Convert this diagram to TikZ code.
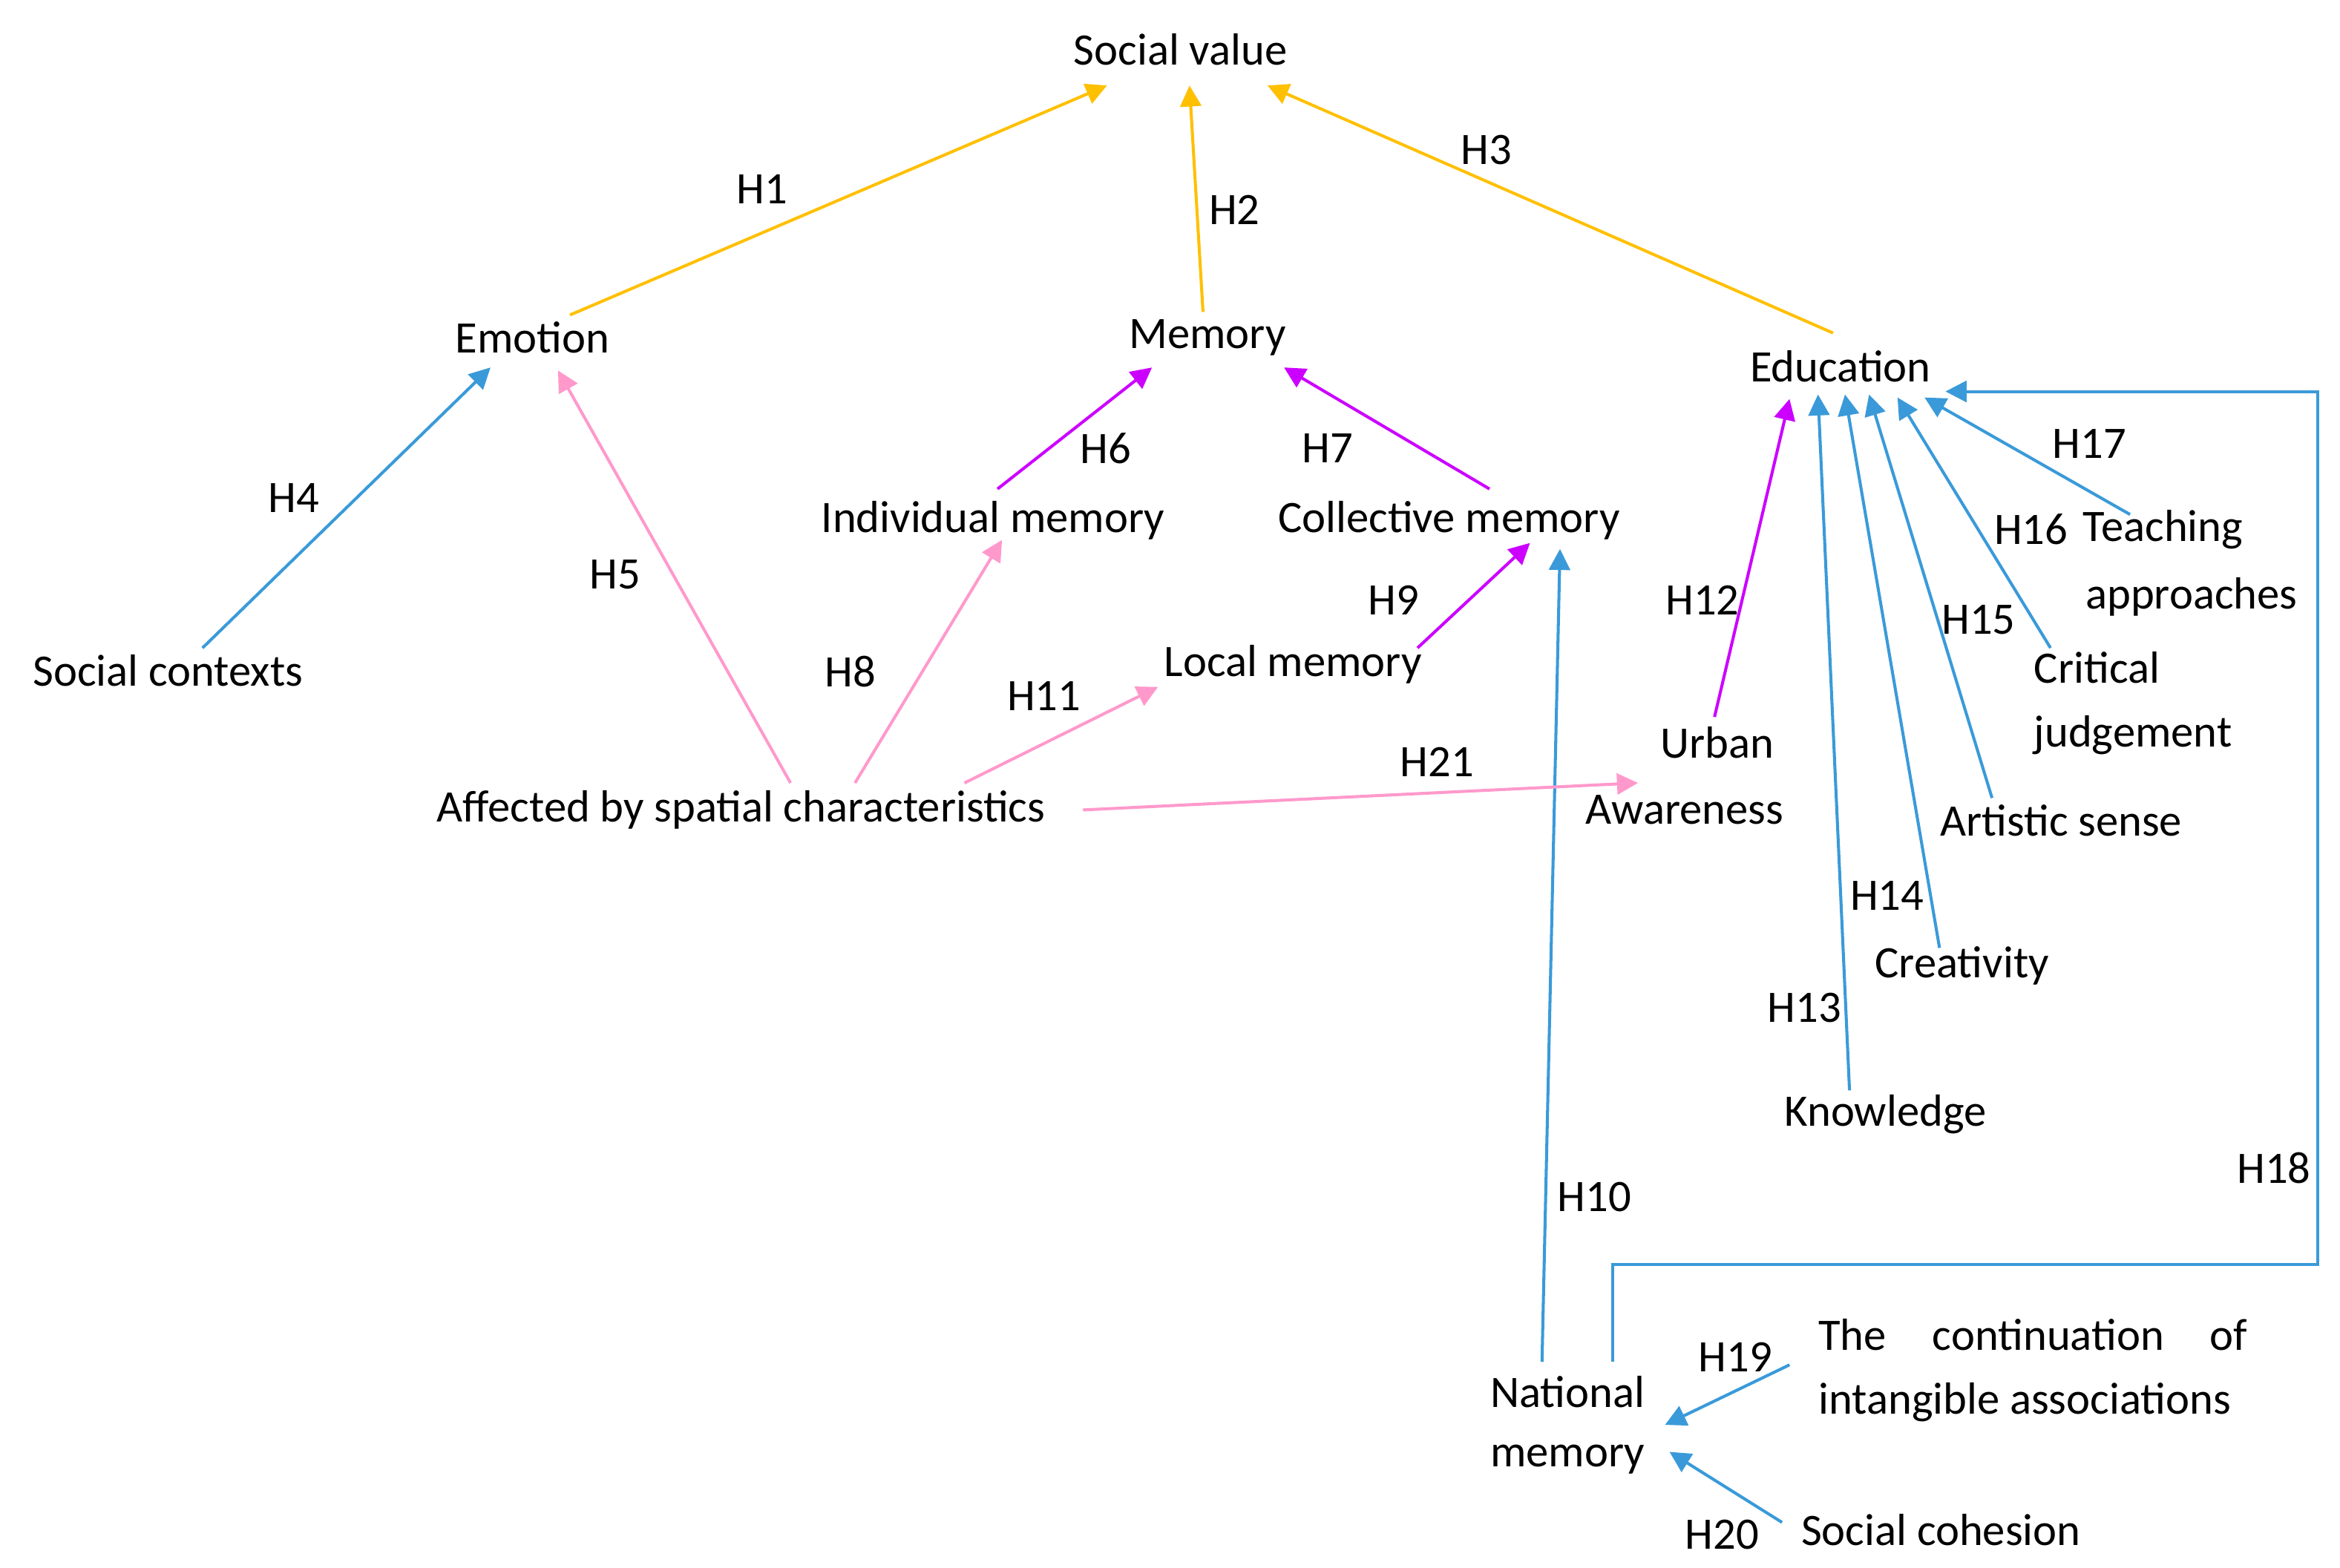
\documentclass[tikz,border=0pt]{standalone}
\usepackage{fontspec}
\setmainfont{Carlito}
\usetikzlibrary{arrows.meta}
\definecolor{org}{HTML}{FFC000}
\definecolor{blu}{HTML}{3A9AD9}
\definecolor{pnk}{HTML}{FF99CC}
\definecolor{pur}{HTML}{CC00FF}
\begin{document}
\begin{tikzpicture}[x=0.5pt,y=-0.5pt,
  t/.style={inner sep=0pt,font=\fontsize{15}{18}\selectfont},
  e/.style={line width=1pt,-{Triangle[length=7pt,width=7pt]}},
  o/.style={e,org},b/.style={e,blu},p/.style={e,pnk},u/.style={e,pur}]
\useasboundingbox[fill=white] (0,0) rectangle (1560,1045);
\node[t] (sv) at (787,33) {Social value};
\node[t] (em) at (355,225) {Emotion};
\node[t] (me) at (805,225) {Memory};
\node[t] (ed) at (1227,244) {Education};
\node[t] (sc) at (112,447) {Social contexts};
\node[t] (im) at (662,347) {Individual memory};
\node[t] (cm) at (966,347) {Collective memory};
\node[t] (lm) at (862,443) {Local memory};
\node[t] (af) at (494,540) {Affected by spatial characteristics};
\node[t] (ua1) at (1145,495) {Urban};
\node[t] (ua2) at (1123,540) {Awareness};
\node[t] (ta1) at (1442,353) {Teaching};
\node[t] (ta2) at (1461,398) {approaches};
\node[t] (cj1) at (1398,445) {Critical};
\node[t] (cj2) at (1422,490) {judgement};
\node[t] (as) at (1374,547) {Artistic sense};
\node[t] (cr) at (1308,644) {Creativity};
\node[t] (kn) at (1257,743) {Knowledge};
\node[t] (nm1) at (1045,928) {National};
\node[t] (nm2) at (1045,973) {memory};
\node[t,anchor=west] (tc1) at (1212,890) {\makebox[143pt][s]{The\hfill continuation\hfill of}};
\node[t,anchor=west] (tc2) at (1212,935) {intangible associations};
\node[t] (so) at (1294,1020) {Social cohesion};
% labels
\foreach \l/\x/\y in {H1/508/126,H2/823/140,H3/991/100,H4/196/332,H5/410/383,H6/737/299,H7/885/299,H8/567/448,H9/929/400,H10/1063/798,H11/696/464,H12/1135/400,H13/1203/672,H14/1258/597,H15/1319/413,H16/1354/353,H17/1393/296,H18/1516/779,H19/1157/905,H20/1148/1023,H21/958/508}
  \node[t] (l\l) at (\x,\y) {\l};
% edges
\draw[o] (380,210) -- (738,57);
\draw[o] (802,208) -- (793,57);
\draw[o] (1222,222) -- (845,57);
\draw[b] (135,432) -- (327,245);
\draw[p] (527,522) -- (372,247);
\draw[u] (665,326) -- (768,245);
\draw[u] (993,326) -- (856,245);
\draw[p] (570,522) -- (668,360);
\draw[u] (945,432) -- (1020,362);
\draw[b] (1028,908) -- (1040,366);
\draw[p] (643,522) -- (772,458);
\draw[u] (1143,478) -- (1193,266);
\draw[b] (1233,727) -- (1212,263);
\draw[b] (1293,632) -- (1230,263);
\draw[b] (1328,532) -- (1246,263);
\draw[b] (1367,432) -- (1265,265);
\draw[b] (1420,343) -- (1283,265);
\draw[b] (1075,908) -- (1075,843) -- (1545,843) -- (1545,261) -- (1297,261);
\draw[b] (1193,910) -- (1110,950);
\draw[b] (1188,1015) -- (1113,968);
\draw[p] (722,540) -- (1092,522);
\end{tikzpicture}
\end{document}
